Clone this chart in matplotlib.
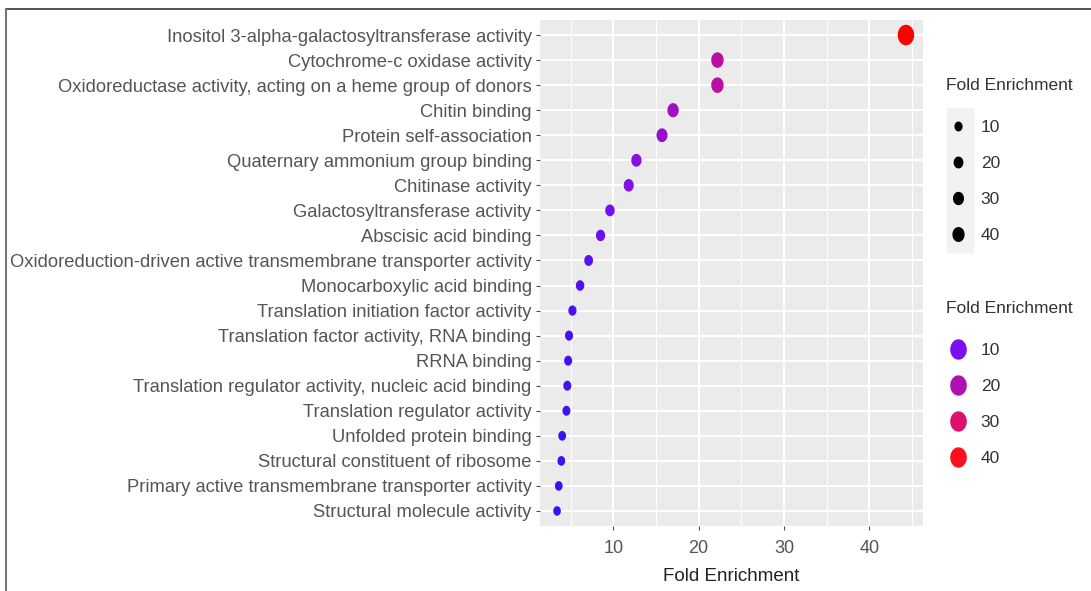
import matplotlib
matplotlib.use('Agg')
import matplotlib.pyplot as plt
import numpy as np
from matplotlib.path import Path
from matplotlib.lines import Line2D
from matplotlib.patches import Rectangle
from matplotlib.colors import LinearSegmentedColormap, Normalize

# GO terms, top to bottom as shown
terms = [
    'Inositol 3-alpha-galactosyltransferase activity',
    'Cytochrome-c oxidase activity',
    'Oxidoreductase activity, acting on a heme group of donors',
    'Chitin binding',
    'Protein self-association',
    'Quaternary ammonium group binding',
    'Chitinase activity',
    'Galactosyltransferase activity',
    'Abscisic acid binding',
    'Oxidoreduction-driven active transmembrane transporter activity',
    'Monocarboxylic acid binding',
    'Translation initiation factor activity',
    'Translation factor activity, RNA binding',
    'RRNA binding',
    'Translation regulator activity, nucleic acid binding',
    'Translation regulator activity',
    'Unfolded protein binding',
    'Structural constituent of ribosome',
    'Primary active transmembrane transporter activity',
    'Structural molecule activity',
]
fold = [44.3, 22.2, 22.2, 17.0, 15.7, 12.7, 11.8, 9.6, 8.5, 7.1,
        6.1, 5.2, 4.8, 4.7, 4.6, 4.5, 4.0, 3.9, 3.6, 3.4]
legend_breaks = [10, 20, 30, 40]
x_ticks = [10, 20, 30, 40]

plt.rcParams['font.family'] = ['Liberation Sans', 'DejaVu Sans']

# ggplot-like blue -> red gradient
cmap = LinearSegmentedColormap.from_list('fe', [
    (0.0, '#3A10F0'), (0.16, '#7A10F0'), (0.41, '#B010B0'),
    (0.65, '#DD1070'), (0.89, '#FF1020'), (1.0, '#FF0000')])
norm = Normalize(vmin=min(fold), vmax=max(fold))

# slightly tall ellipse, like the squeezed original
t = np.linspace(0, 2 * np.pi, 60)
ell = Path(np.column_stack([0.8 * np.cos(t), np.sin(t)]))

def size_pt2(v):
    # area-linear size scale (height in px, converted to points)
    lo, hi = 9.5, 20.5
    a = lo**2 + (hi**2 - lo**2) * (np.asarray(v) - min(fold)) / (max(fold) - min(fold))
    return a * 0.72**2

fig = plt.figure(figsize=(10.91, 5.91), dpi=100)
ax = fig.add_axes([540/1091, 1 - 526/591, (923 - 540)/1091, (526 - 20)/591])
ax.set_facecolor('#EBEBEB')

ax.scatter(fold[::-1], terms[::-1], s=size_pt2(fold[::-1]), c=fold[::-1],
           cmap=cmap, norm=norm, marker=ell, linewidths=0, zorder=3)

ax.set_xlim(1.4, 46.3)
ax.set_ylim(-0.6, len(terms) - 0.4)
ax.set_xticks(x_ticks)
ax.set_xticks([5, 15, 25, 35, 45], minor=True)
ax.grid(True, which='major', color='white', lw=1.4, zorder=1)
ax.grid(True, which='minor', axis='x', color='white', lw=0.7, zorder=1)
ax.set_axisbelow(True)
for sp in ax.spines.values():
    sp.set_visible(False)
ax.tick_params(axis='y', which='major', colors='#4D4D4D', labelsize=13.2,
               length=3, width=0.8, pad=3)
ax.tick_params(axis='x', which='major', colors='#4D4D4D', labelsize=13,
               length=3, width=0.8, pad=7)
ax.tick_params(axis='x', which='minor', length=0)
for lbl in ax.get_xticklabels() + ax.get_yticklabels():
    lbl.set_color('#555555')
ax.set_xlabel('Fold Enrichment', fontsize=13.5, color='#222222', labelpad=8)

# legends
leg_kw = dict(loc='upper left', bbox_transform=fig.transFigure, frameon=False,
              fontsize=12.5, title_fontsize=12.5, alignment='left', borderpad=0,
              borderaxespad=0, handlelength=1.4, handletextpad=0.6,
              labelspacing=1.2)
size_h = [8.5, 10.5, 12, 13.5]
size_handles = [Line2D([], [], ls='', marker=ell, color='black', markersize=h * 0.72)
                for h in size_h]
leg1 = ax.legend(size_handles, [str(b) for b in legend_breaks], title='Fold Enrichment',
                 bbox_to_anchor=(946/1091, 1 - 78/591), **leg_kw)
ax.add_artist(leg1)
col_handles = [Line2D([], [], ls='', marker=ell, color=cmap(norm(b)), markersize=19 * 0.72)
               for b in legend_breaks]
leg2 = ax.legend(col_handles, [str(b) for b in legend_breaks], title='Fold Enrichment',
                 bbox_to_anchor=(946/1091, 1 - 301/591), **leg_kw)
for lg in (leg1, leg2):
    for txt in lg.get_texts():
        txt.set_color('#333333')
    lg.get_title().set_color('#333333')
    lg._legend_box.sep = 1.55 * 12.5  # gap between title and keys

# grey key background behind the size legend
fig.patches.append(Rectangle((947/1091, 1 - 252/591), 26/1091, 144/591,
                             transform=fig.transFigure, color='#F2F2F2', zorder=-1))

# frame of the original screenshot
fig.add_artist(Line2D([6/1091, 1], [1 - 9/591, 1 - 9/591], color='#333333', lw=1.2))
fig.add_artist(Line2D([6/1091, 6/1091], [0, 1 - 9/591], color='#777777', lw=1.5))

fig.savefig('out.png', dpi=100)
